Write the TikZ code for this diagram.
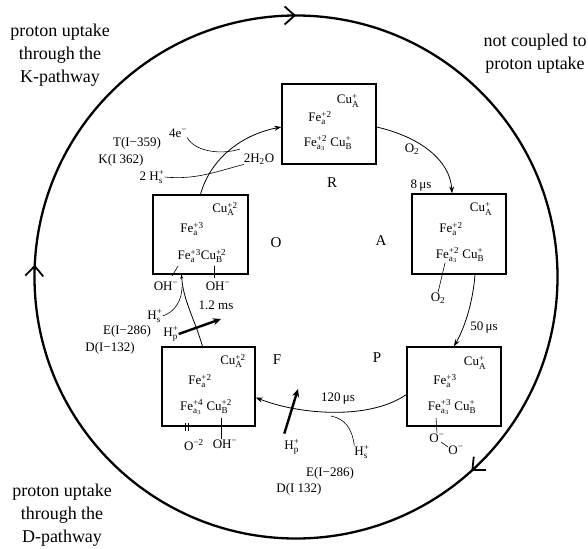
\documentclass[tikz,border=0pt]{standalone}
\usepackage{fontspec}
\setmainfont{Liberation Serif}
\usepackage{amsmath}
\usetikzlibrary{arrows.meta,decorations.markings}
\newcommand\ion[3]{#1$_{\text{#2}}^{\text{#3}}$}
\newcommand\sub[2]{#1$_{\text{#2}}$}
\begin{document}
\begin{tikzpicture}[x=1pt,y=-1pt,
  state/.style={draw, line width=1.3pt, minimum width=94pt, minimum height=80pt, inner sep=0pt},
  chem/.style={font=\fontsize{13}{15}\selectfont, inner sep=0pt},
  lbl/.style={font=\fontsize{13}{15}\selectfont, inner sep=0pt},
  stlbl/.style={font=\fontsize{15}{17}\selectfont, inner sep=0pt},
  big/.style={font=\fontsize{18}{23}\selectfont, align=center, inner sep=0pt},
  flow/.style={line width=0.8pt, -{Stealth[length=7pt,width=5pt]}},
  feed/.style={line width=0.6pt},
  bigarrow/.style={line width=2.4pt, -{Stealth[length=8pt,width=7pt]}},
  bond/.style={line width=0.6pt},
  barb/.style={},
]
\useasboundingbox (0,0) rectangle (588,548);

% big cycle
\draw[line width=2.3pt, postaction={decorate},
  decoration={markings,
    mark=at position 0.25 with {\arrowreversed{Straight Barb[length=10pt,width=18pt,line width=1.8pt]}},
    mark=at position 0.4925 with {\arrowreversed{Straight Barb[length=10pt,width=18pt,line width=1.8pt]}},
    mark=at position 0.867 with {\arrowreversed{Straight Barb[length=10pt,width=18pt,line width=1.8pt]}}}]
  (296,277) circle[radius=261.5pt];

\node[big] (kp) at (60,55) {proton uptake\\through the\\K-pathway};
\node[big] (nc) at (535,54) {not coupled to\\proton uptake};
\node[big] (dp) at (62,515) {proton uptake\\through the\\D-pathway};

% state boxes
\node[state] (R) at (329,124) {};
\node[state] (A) at (459,234) {};
\node[state, minimum height=79pt] (P) at (454,386.5) {};
\node[state, minimum height=79pt, minimum width=93pt] (F) at (208.5,386.5) {};
\node[state, minimum height=79pt, minimum width=95pt] (O) at (200.5,234.5) {};

\node[stlbl] (Rl) at (332,183) {R};
\node[stlbl] (Al) at (381,241) {A};
\node[stlbl] (Pl) at (377,358) {P};
\node[stlbl] (Fl) at (277,360) {F};
\node[stlbl] (Ol) at (276,243) {O};

% contents R
\node[chem] (R1) at (348,101) {\ion{Cu}{A}{+}};
\node[chem] (R2) at (320,118) {\ion{Fe}{a}{+2}};
\node[chem] (R3) at (328,143) {\ion{Fe}{a$_3$}{+2} \ion{Cu}{B}{+}};
% contents A
\node[chem] (A1) at (481,209) {\ion{Cu}{A}{+}};
\node[chem] (A2) at (451,229) {\ion{Fe}{a}{+2}};
\node[chem] (A3) at (460,255) {\ion{Fe}{a$_3$}{+2} \ion{Cu}{B}{+}};
% contents P
\node[chem] (P1) at (475,363) {\ion{Cu}{A}{+}};
\node[chem] (P2) at (445,381) {\ion{Fe}{a}{+3}};
\node[chem] (P3) at (452,407) {\ion{Fe}{a$_3$}{+3} \ion{Cu}{B}{+}};
% contents F
\node[chem] (F1) at (233,361) {\ion{Cu}{A}{+2}};
\node[chem] (F2) at (200,381) {\ion{Fe}{a}{+2}};
\node[chem] (F3) at (206,407) {\ion{Fe}{a$_3$}{+4} \ion{Cu}{B}{+2}};
% contents O
\node[chem] (O1) at (225,209) {\ion{Cu}{A}{+2}};
\node[chem] (O2) at (192,229) {\ion{Fe}{a}{+3}};
\node[chem] (O3) at (202,256) {\ion{Fe}{a}{+3}\ion{Cu}{B}{+2}};

% ligands
\node[lbl] (Ao2) at (438,298) {\sub{O}{2}};
\draw[bond] (445,263) -- (Ao2.north);
\node[lbl] (Po1) at (437,438) {O$^{\text{−}}$};
\node[lbl] (Po2) at (456,450) {O$^{\text{−}}$};
\draw[bond] (436,418) -- (Po1.north);
\draw[bond] (441,442) -- (448,447);
\node[lbl] (Fo) at (194,445) {O$^{\text{−2}}$};
\node[lbl] (Foh) at (225,444) {OH$^{\text{−}}$};
\draw[bond] (185,423) -- (185,431);
\draw[bond] (188,423) -- (188,431);
\draw[bond] (221,418) -- (Foh.north -| 221,0);
\node[lbl] (Ooh1) at (166,286) {OH$^{\text{−}}$};
\node[lbl] (Ooh2) at (218,286) {OH$^{\text{−}}$};
\draw[bond] (178,266) -- (172,276);
\draw[bond] (214,266) -- (214,278);

% O -> R
\node[lbl] (e4) at (178,133) {4e$^{\text{−}}$};
\node[lbl] (T359) at (137,143) {T(I−359)};
\node[lbl] (K362) at (121,160) {K(I 362)};
\node[lbl] (h2s) at (152,177) {2 \ion{H}{s}{+}};
\node[lbl] (h2o) at (259,159) {2\sub{H}{2}O};
\draw[flow] (O.north) .. controls (210,160) and (240,135) .. ([yshift=-3pt]R.west);
\coordinate (j1) at (240,149);
\draw[feed] (e4.south east) .. controls (195,152) and (222,155) .. (j1);
\draw[feed] (h2s.east) .. controls (195,180) and (215,172) .. (h2o.south west);

% R -> A
\node[lbl] (o2in) at (412,149) {\sub{O}{2}};
\node[lbl] (t8) at (421,186) {8\,μs};
\draw[flow] ([yshift=-3pt]R.east) .. controls (420,137) and (450,160) .. ([xshift=-7pt]A.north);

% A -> P
\node[lbl] (t50) at (484,328) {50\,μs};
\draw[flow] ([xshift=16pt]A.south) .. controls (473,300) and (466,325) .. (P.north);

% P -> F
\node[lbl] (t120) at (338,399) {120\,μs};
\draw[flow] ([yshift=-8pt]P.west) .. controls (370,420) and (300,415) .. ([yshift=-11pt]F.east);
\node[lbl] (hsP) at (362,452) {\ion{H}{s}{+}};
\coordinate (j2) at (331,416);
\draw[feed] (hsP.north west) .. controls (352,428) and (345,419) .. (j2);
\node[lbl] (hpF) at (292,447) {\ion{H}{p}{+}};
\coordinate (hpFt) at (298,389);
\draw[bigarrow] ([yshift=6pt]hpF.north west) -- (hpFt);
\node[lbl] (E286b) at (330,473) {E(I−286)};
\node[lbl] (D132b) at (299,489) {D(I 132)};

% F -> O
\node[lbl] (t12) at (216,305) {1.2 ms};
\draw[flow, -{Stealth[length=4pt,width=3pt]}] ([xshift=-6pt]F.north) .. controls (195,320) and (183,300) .. ([xshift=-19pt]O.south);
\node[lbl] (hsO) at (155,316) {\ion{H}{s}{+}};
\coordinate (j3) at (182,287);
\draw[feed] (hsO.east) .. controls (175,312) and (182,300) .. (j3);
\node[lbl] (hpO) at (171,334) {\ion{H}{p}{+}};
\coordinate (hpOt) at (221,319);
\draw[bigarrow] (hpO.east) -- (hpOt);
\node[lbl] (E286a) at (127,331) {E(I−286)};
\node[lbl] (D132a) at (110,348) {D(I−132)};
\end{tikzpicture}
\end{document}
